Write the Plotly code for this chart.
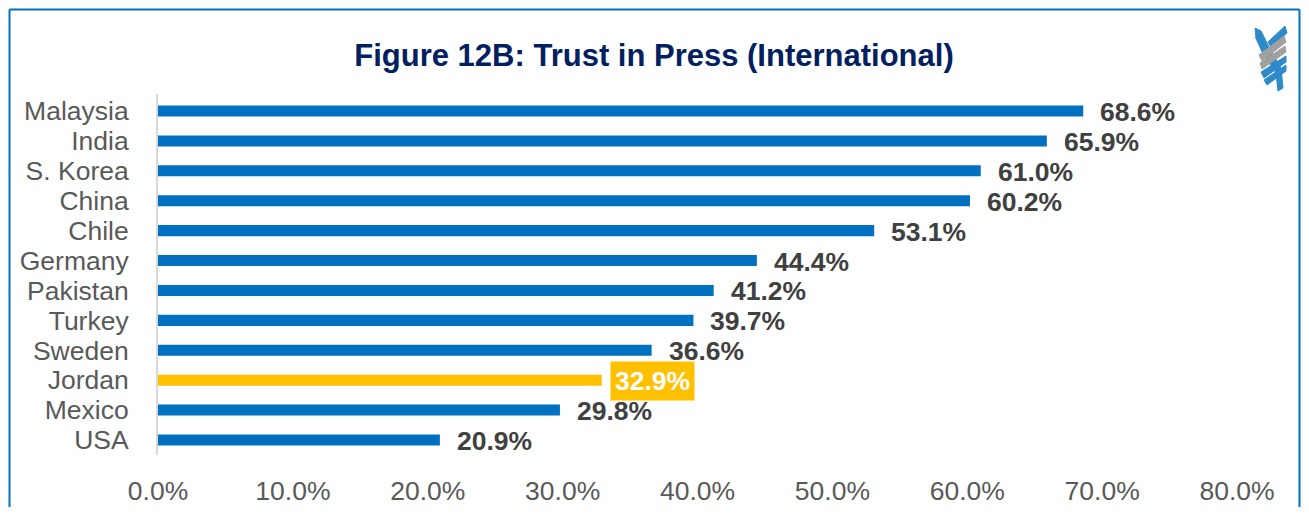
import plotly.graph_objects as go

countries = ["Malaysia", "India", "S. Korea", "China", "Chile", "Germany",
             "Pakistan", "Turkey", "Sweden", "Jordan", "Mexico", "USA"]
trust = [68.6, 65.9, 61.0, 60.2, 53.1, 44.4, 41.2, 39.7, 36.6, 32.9, 29.8, 20.9]
highlight = "Jordan"
x_ticks = [0, 10, 20, 30, 40, 50, 60, 70, 80]

# page body has an 8px margin on every side, keep the figure inside the window
OFF = 8
W, H = 1309 - 2 * OFF, 515 - 2 * OFF
L, T = 158 - OFF, 94 - OFF
R, B = W - (1237 - OFF), H - (455 - OFF)
PW, PH = W - L - R, H - T - B
FONT = "Liberation Sans, Arial, sans-serif"


def px(x):
    # page pixel -> paper coordinate
    return (x - OFF - L) / PW


def py(y):
    return 1 - (y - OFF - T) / PH


def poly(pts):
    return "M " + " L ".join(f"{px(a)},{py(b)}" for a, b in pts) + " Z"


BLUE = "#0070C0"
GOLD = "#FFC000"

colors = [GOLD if c == highlight else BLUE for c in countries]

fig = go.Figure()
fig.add_trace(go.Bar(
    x=trust, y=countries, orientation="h",
    marker_color=colors, marker_line_width=0,
    width=0.37, hoverinfo="x+y",
))

for c, v in zip(countries, trust):
    is_hl = c == highlight
    fig.add_annotation(
        x=v, y=c, xref="x", yref="y",
        text=f"{v:.1f}%", showarrow=False,
        xanchor="left", yanchor="middle",
        xshift=8 if is_hl else 16, yshift=-1,
        font=dict(family=FONT, size=26.5,
                  color="white" if is_hl else "#404040", weight="bold"),
        bgcolor=GOLD if is_hl else None,
        borderpad=4 if is_hl else 0,
    )

# outer frame (left, top, right edges)
for x0, y0, x1, y1 in [(9.5, 9.5, 9.5, 515), (9.5, 9.5, 1299.5, 9.5),
                       (1299.5, 9.5, 1299.5, 515)]:
    fig.add_shape(type="line", xref="paper", yref="paper",
                  x0=px(x0), y0=py(y0), x1=px(x1), y1=py(y1),
                  line=dict(color=BLUE, width=2), layer="above")

# logo approximation
LB, LG = "#2E8BC9", "#A0A0A0"
ribbons = [
    ([(1255, 28), (1261, 31), (1268, 45), (1281, 68), (1283, 88), (1278, 91),
      (1276, 73), (1262, 52), (1256, 38)], LB),
    ([(1268, 42), (1285, 26), (1287, 33), (1271, 47)], LB),
    ([(1259, 55), (1284, 36), (1286, 42), (1262, 61)], LG),
    ([(1260, 63), (1285, 46), (1286, 52), (1262, 69)], LG),
    ([(1261, 72), (1286, 56), (1286, 62), (1264, 78)], LB),
    ([(1264, 80), (1286, 65), (1286, 71), (1267, 85)], LB),
]
for pts, col in ribbons:
    fig.add_shape(type="path", xref="paper", yref="paper", path=poly(pts),
                  fillcolor=col, line=dict(color=col, width=1))
fig.add_annotation(xref="paper", yref="paper", x=px(1266), y=py(27),
                   text="✸", showarrow=False, font=dict(size=12, color=LB))

fig.update_layout(
    width=W, height=H,
    margin=dict(l=L, r=R, t=T, b=B, autoexpand=False),
    paper_bgcolor="white", plot_bgcolor="white",
    showlegend=False,
    title=dict(text="<b>Figure 12B: Trust in Press (International)</b>",
               x=(654 - OFF) / W, xanchor="center", y=1 - (55 - OFF) / H, yanchor="middle",
               font=dict(family=FONT, size=31, color="#002060")),
    xaxis=dict(range=[0, 80], tickvals=x_ticks,
               ticktext=[f"{t:.1f}%" for t in x_ticks],
               showgrid=False, zeroline=False, showline=False, automargin=False,
               ticks="outside", ticklen=12, tickcolor="rgba(0,0,0,0)",
               tickfont=dict(family=FONT, size=26.5, color="#595959")),
    yaxis=dict(autorange="reversed", showgrid=False, zeroline=False,
               tickmode="array", tickvals=countries, automargin=False,
               showline=True, linecolor="#D9D9D9", linewidth=2,
               ticks="outside", ticklen=22, tickcolor="rgba(0,0,0,0)",
               tickfont=dict(family=FONT, size=26.5, color="#595959")),
)

fig.write_html("out.html")
